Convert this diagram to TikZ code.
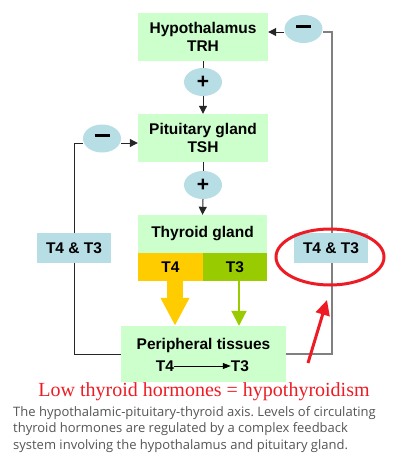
\documentclass[tikz,border=0pt]{standalone}
\usepackage{fontspec}
\setmainfont{Liberation Serif}
\setsansfont{Liberation Sans}
\newfontfamily\capfont{Open Sans}
\usetikzlibrary{shapes.geometric,arrows.meta}
\definecolor{boxgreen}{RGB}{204,255,204}
\definecolor{pillblue}{RGB}{183,221,229}
\definecolor{tfour}{RGB}{255,204,0}
\definecolor{tthree}{RGB}{153,204,0}
\definecolor{capgray}{RGB}{85,85,85}
\definecolor{redmark}{RGB}{237,28,36}
\newcommand{\minusbar}{\rule[5.5pt]{15pt}{2.8pt}}
\frenchspacing
\tikzset{
  bfont/.style={font=\sffamily\bfseries\fontsize{15.5}{17.5}\selectfont},
  gbox/.style={fill=boxgreen, inner sep=0pt, bfont, align=center},
  pill/.style={ellipse, fill=pillblue, inner sep=0pt, minimum width=38pt, minimum height=28pt, font=\sffamily\bfseries\fontsize{21}{21}\selectfont},
  hbox/.style={fill=pillblue, inner sep=0pt, minimum width=74pt, minimum height=30pt, bfont},
  conn/.style={draw=black!85, line width=1pt},
  connr/.style={draw=black!50, line width=1.2pt},
  tip/.style={-{Triangle[width=8pt,length=8pt]}},
  capline/.style={text=capgray, font=\capfont\fontsize{13}{16.5}\selectfont, anchor=base west, inner sep=0pt},
}
\begin{document}
\begin{tikzpicture}[x=1pt,y=-1pt]
\useasboundingbox (0,0) rectangle (400,466);
% boxes
\node[gbox, minimum width=130pt, minimum height=48pt] (hyp) at (203,37) {Hypothalamus\\TRH};
\node[gbox, minimum width=130pt, minimum height=48pt] (pit) at (203,138) {Pituitary gland\\TSH};
\node[gbox, minimum width=129pt, minimum height=38pt] (thy) at (202.5,234) {Thyroid gland};
\node[fill=tfour, inner sep=0pt, minimum width=65pt, minimum height=28pt, bfont] (t4) at (170.5,267) {T4};
\node[fill=tthree, inner sep=0pt, minimum width=64pt, minimum height=28pt, bfont] (t3) at (235,267) {T3};
\node[gbox, minimum width=165pt, minimum height=56pt] (per) at (203.5,354) {};
\node[bfont, inner sep=0pt] (perlab) at (203.5,345) {Peripheral tissues};
\node[bfont, inner sep=0pt] (pT4) at (165,366) {T4};
\node[bfont, inner sep=0pt] (pT3) at (240,366) {T3};
\draw[line width=0.8pt, -{Triangle[width=6pt,length=8pt]}] (pT4.east) -- (pT3.west);
% pills
\node[pill] (m1) at (303.5,29) {\minusbar};
\node[pill] (p1) at (203,82) {+};
\node[pill] (m2) at (102,138.5) {\minusbar};
\node[pill] (p2) at (203,185) {+};
% vertical connectors
\draw[conn] (hyp.south) -- (p1.north);
\draw[conn, tip] (p1.south) -- (pit.north);
\draw[conn] (pit.south) -- (p2.north);
\draw[conn, tip] (p2.south) -- (thy.north);
% feedback left
\coordinate (lc) at (74,354);
\draw[conn] (per.west |- lc) -- (lc) -- (74,143) -- (m2.west |- 0,143);
\draw[conn, tip] (m2.east |- 0,143) -- (pit.west |- 0,143);
% feedback right
\coordinate (rc) at (332,354);
\draw[connr] (per.east |- rc) -- (rc) -- (332,32) -- (m1.east |- 0,32);
\draw[conn, tip] (m1.west |- 0,32) -- (hyp.east |- 0,32);
% hormone boxes
\node[hbox] (lh) at (74,248) {T4 \& T3};
\node[hbox] (rh) at (331,248) {T4 \& T3};
% big arrows
\draw[draw=tfour, line width=16pt, -{Triangle[width=27pt,length=28pt]}] (t4.south -| 175,0) -- (per.north -| 175,0);
\draw[draw=tthree, line width=2pt, -{Triangle[width=15pt,length=15pt]}] (t3.south -| 239,0) -- (per.north -| 239,0);
% red marks
\node[draw=redmark, line width=3pt, ellipse, minimum width=108pt, minimum height=56pt] (ring) at (330,257) {};
\coordinate (rtail) at (308,363);
\coordinate (rtip) at (327,300);
\draw[draw=redmark, line width=3pt, -{Triangle[width=14pt,length=15pt]}] (rtail) -- (rtip);
% texts
\node[text=redmark, font=\fontsize{20}{22}\selectfont, inner sep=0pt] (low) at (204,392) {Low thyroid hormones = hypothyroidism};
\node[capline] (cap1) at (13,416) {The hypothalamic-pituitary-thyroid axis. Levels of circulating};
\node[capline] (cap2) at (13,432.5) {thyroid hormones are regulated by a complex feedback};
\node[capline] (cap3) at (13,449) {system involving the hypothalamus and pituitary gland.};
\end{tikzpicture}
\end{document}
